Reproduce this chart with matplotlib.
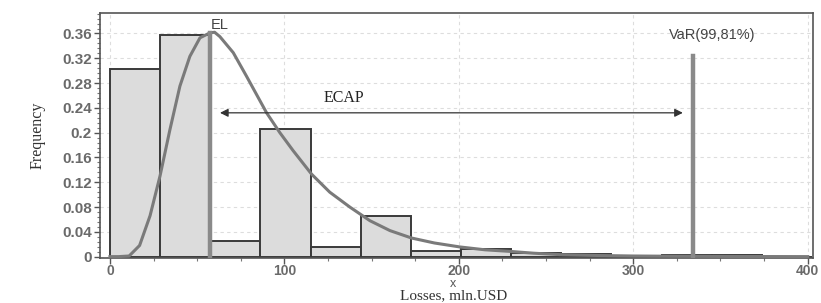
import numpy as np
import matplotlib
matplotlib.use("Agg")
import matplotlib.pyplot as plt
from matplotlib.ticker import MultipleLocator

# histogram of simulated losses
bin_edges = [0, 28.75, 57.5, 86.25, 115, 143.75, 172.5, 201.25, 230,
             258.75, 287.5, 316.25, 345, 373.75, 402.5]
bin_freq = [0.302, 0.358, 0.0246, 0.2055, 0.0156, 0.066, 0.0088, 0.0117,
            0.006, 0.004, 0.001, 0.002, 0.002, 0.0]

# fitted density
curve_x = [0, 5, 11, 17, 23, 28.7, 34.4, 40.1, 45.8, 51.6, 57.3, 60, 63,
           70.7, 78.3, 89.8, 97.4, 105, 115.6, 126, 137.5, 149, 160.5,
           172.9, 186, 200.6, 215, 229, 243, 258, 280, 300, 330, 360, 400]
curve_y = [0.0, 0.0, 0.001, 0.018, 0.066, 0.13, 0.205, 0.275, 0.323, 0.353,
           0.361, 0.362, 0.355, 0.329, 0.291, 0.232, 0.200, 0.171, 0.133,
           0.104, 0.080, 0.058, 0.042, 0.030, 0.022, 0.0156, 0.011, 0.0085,
           0.0055, 0.0032, 0.0018, 0.001, 0.0005, 0.0002, 0.0]

el_x = 57.5
el_y = 0.361
var_x = 334
var_y = 0.323
ecap_y = 0.232

fig = plt.figure(figsize=(8.21, 3.03), dpi=100)
ax = fig.add_axes([0.1218, 0.15, 0.8684, 0.807])

widths = np.diff(bin_edges)
ax.bar(bin_edges[:-1], bin_freq, width=widths, align="edge",
       color="#dcdcdc", edgecolor="#3a3a3a", linewidth=1.4, zorder=2)

ax.plot(curve_x, curve_y, color="#7a7a7a", linewidth=2.2, zorder=3)

# EL and VaR lines
ax.plot([el_x, el_x], [0, el_y], color="#8a8a8a", linewidth=3.2, zorder=4)
ax.plot([var_x, var_x], [0, var_y], color="#8a8a8a", linewidth=3.2, zorder=4)

# ECAP arrow
ax.annotate("", xy=(el_x + 4, ecap_y), xytext=(var_x - 4, ecap_y),
            arrowprops=dict(arrowstyle="<|-|>", color="#333333", lw=0.9,
                            mutation_scale=12), zorder=5)

ax.text(63, 0.373, "EL", fontsize=10.5, color="#444444", ha="center",
        va="center", family="Liberation Sans")
ax.text(345, 0.358, "VaR(99,81%)", fontsize=10.5, color="#444444",
        ha="center", va="center", family="Liberation Sans")
ax.text(134, 0.256, "ECAP", fontsize=11.5, color="#222222", ha="center",
        va="center", family="Liberation Serif")

ax.set_xlim(-5.7, 403)
ax.set_ylim(-0.0015, 0.393)

ax.xaxis.set_major_locator(MultipleLocator(100))
ax.xaxis.set_minor_locator(MultipleLocator(25))
ax.yaxis.set_minor_locator(MultipleLocator(0.008))
ax.set_yticks([0, 0.04, 0.08, 0.12, 0.16, 0.2, 0.24, 0.28, 0.32, 0.36])
ax.set_yticklabels(["0", "0.04", "0.08", "0.12", "0.16", "0.2", "0.24",
                    "0.28", "0.32", "0.36"])

for lab in ax.get_xticklabels() + ax.get_yticklabels():
    lab.set_family("Liberation Sans")
    lab.set_fontweight("bold")
    lab.set_color("#6a6a6a")
    lab.set_fontsize(11)
for lab in ax.get_xticklabels():
    lab.set_fontsize(10)

ax.tick_params(which="major", length=4, color="#555555", width=1, pad=2)
ax.tick_params(which="minor", length=2, color="#777777", width=0.8)
ax.tick_params(axis="x", which="major", pad=1)

ax.grid(True, which="major", color="#dddddd", linestyle=(0, (3, 3)),
        linewidth=0.8, zorder=0)
ax.set_axisbelow(True)

for side in ax.spines.values():
    side.set_color("#555555")
    side.set_linewidth(1.2)

ax.set_ylabel("Frequency", family="Liberation Serif", fontsize=11.5,
              color="#333333", labelpad=12)
fig.text(0.552, 0.063, "x", family="Liberation Sans", fontsize=9,
         color="#555555", ha="center", va="center")
fig.text(0.552, 0.023, "Losses, mln.USD", family="Liberation Serif",
         fontsize=11, color="#333333", ha="center", va="center")

fig.savefig("out.png", dpi=100)
